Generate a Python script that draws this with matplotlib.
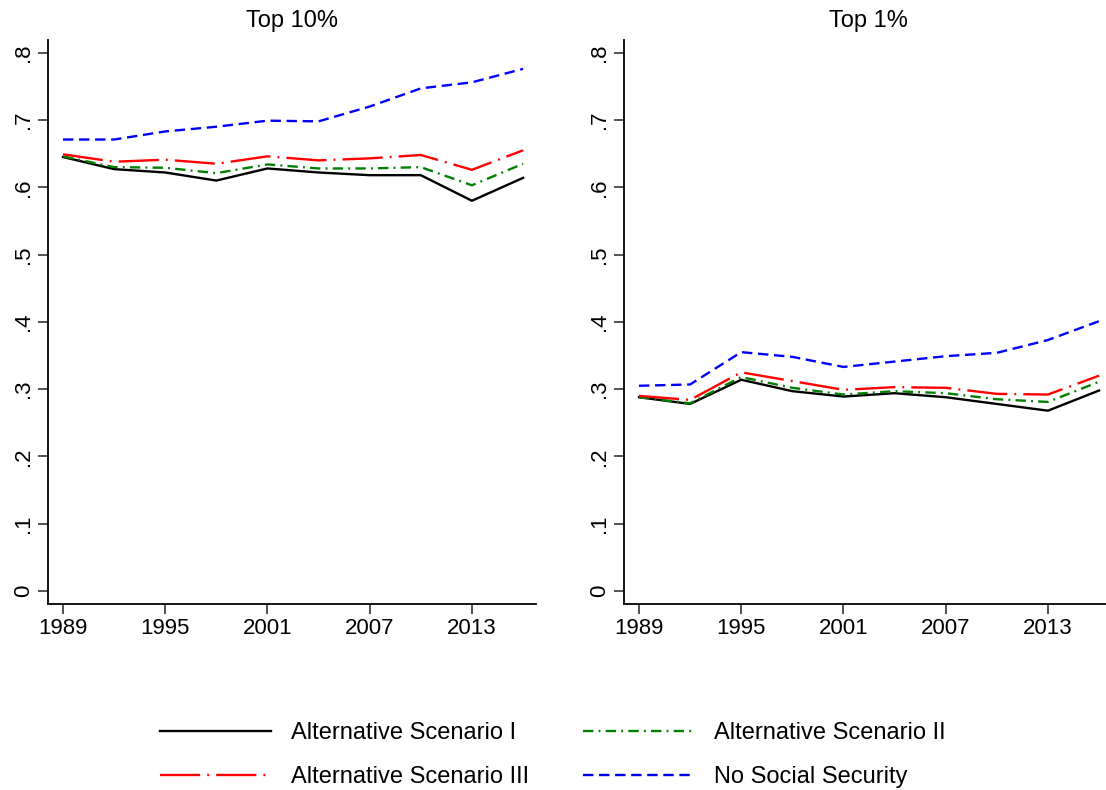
import matplotlib
matplotlib.use("Agg")
import matplotlib.pyplot as plt
from matplotlib.lines import Line2D

plt.rcParams['font.family'] = ['Liberation Sans', 'DejaVu Sans']

years = [1989, 1992, 1995, 1998, 2001, 2004, 2007, 2010, 2013, 2016]

top10_alt1 = [0.645, 0.627, 0.622, 0.610, 0.628, 0.622, 0.618, 0.618, 0.580, 0.614]
top10_alt2 = [0.646, 0.630, 0.629, 0.621, 0.634, 0.628, 0.628, 0.630, 0.603, 0.635]
top10_alt3 = [0.649, 0.638, 0.641, 0.635, 0.646, 0.640, 0.643, 0.648, 0.626, 0.655]
top10_noss = [0.671, 0.671, 0.683, 0.690, 0.699, 0.698, 0.720, 0.747, 0.756, 0.776]

top1_alt1 = [0.288, 0.278, 0.314, 0.297, 0.289, 0.294, 0.288, 0.278, 0.268, 0.298]
top1_alt2 = [0.288, 0.279, 0.318, 0.302, 0.292, 0.297, 0.294, 0.285, 0.281, 0.311]
top1_alt3 = [0.290, 0.284, 0.325, 0.312, 0.299, 0.303, 0.302, 0.293, 0.292, 0.320]
top1_noss = [0.305, 0.307, 0.355, 0.348, 0.333, 0.341, 0.349, 0.354, 0.373, 0.401]

titles = ["Top 10%", "Top 1%"]
labels = ["Alternative Scenario I", "Alternative Scenario II",
          "Alternative Scenario III", "No Social Security"]
xticks = [1989, 1995, 2001, 2007, 2013]
yticks = [0, 0.1, 0.2, 0.3, 0.4, 0.5, 0.6, 0.7, 0.8]
yticklabels = ["0", ".1", ".2", ".3", ".4", ".5", ".6", ".7", ".8"]

styles = [
    dict(color="black", linestyle="-"),
    dict(color="#008000", linestyle=(0, (4.4, 2.2, 0.8, 2.2))),
    dict(color="#ff0000", linestyle=(0, (17, 3.0, 0.8, 3.0))),
    dict(color="#0000ff", linestyle=(0, (4.4, 2.4))),
]
LW = 1.7
FS = 16
LFS = 17

fig = plt.figure(figsize=(11.06, 7.90), dpi=100)
W = 488 / 1106
B = 1 - 604 / 790
H = (604 - 40) / 790
axes = [fig.add_axes([48 / 1106, B, W, H]), fig.add_axes([624 / 1106, B, W, H])]

panels = [
    [top10_alt1, top10_alt2, top10_alt3, top10_noss],
    [top1_alt1, top1_alt2, top1_alt3, top1_noss],
]

for ax, series, title in zip(axes, panels, titles):
    for s, st in zip(series, styles):
        ax.plot(years, s, lw=LW, **st)
    ax.set_xlim(1988.12, 2016.76)
    ax.set_ylim(-0.0193, 0.8189)
    ax.set_xticks(xticks)
    ax.set_xticklabels([str(x) for x in xticks])
    ax.set_yticks(yticks)
    ax.set_yticklabels(yticklabels, rotation=90, va="center")
    ax.tick_params(axis="both", labelsize=FS, length=7, width=1.2, direction="out",
                   color="#333333", pad=3)
    ax.spines["top"].set_visible(False)
    ax.spines["right"].set_visible(False)
    ax.spines["left"].set_linewidth(1.3)
    ax.spines["bottom"].set_linewidth(1.3)
    ax.set_title(title, fontsize=17, pad=9)

handles = [Line2D([0], [0], lw=LW, **st) for st in styles]
order = [0, 2, 1, 3]
fig.legend([handles[i] for i in order], [labels[i] for i in order],
           loc="center", bbox_to_anchor=(0.5, 1 - 755 / 790), ncol=2,
           frameon=False, fontsize=LFS, handlelength=4.7, handletextpad=0.85,
           columnspacing=2.3, labelspacing=0.93)

fig.savefig("out.png", dpi=100)
